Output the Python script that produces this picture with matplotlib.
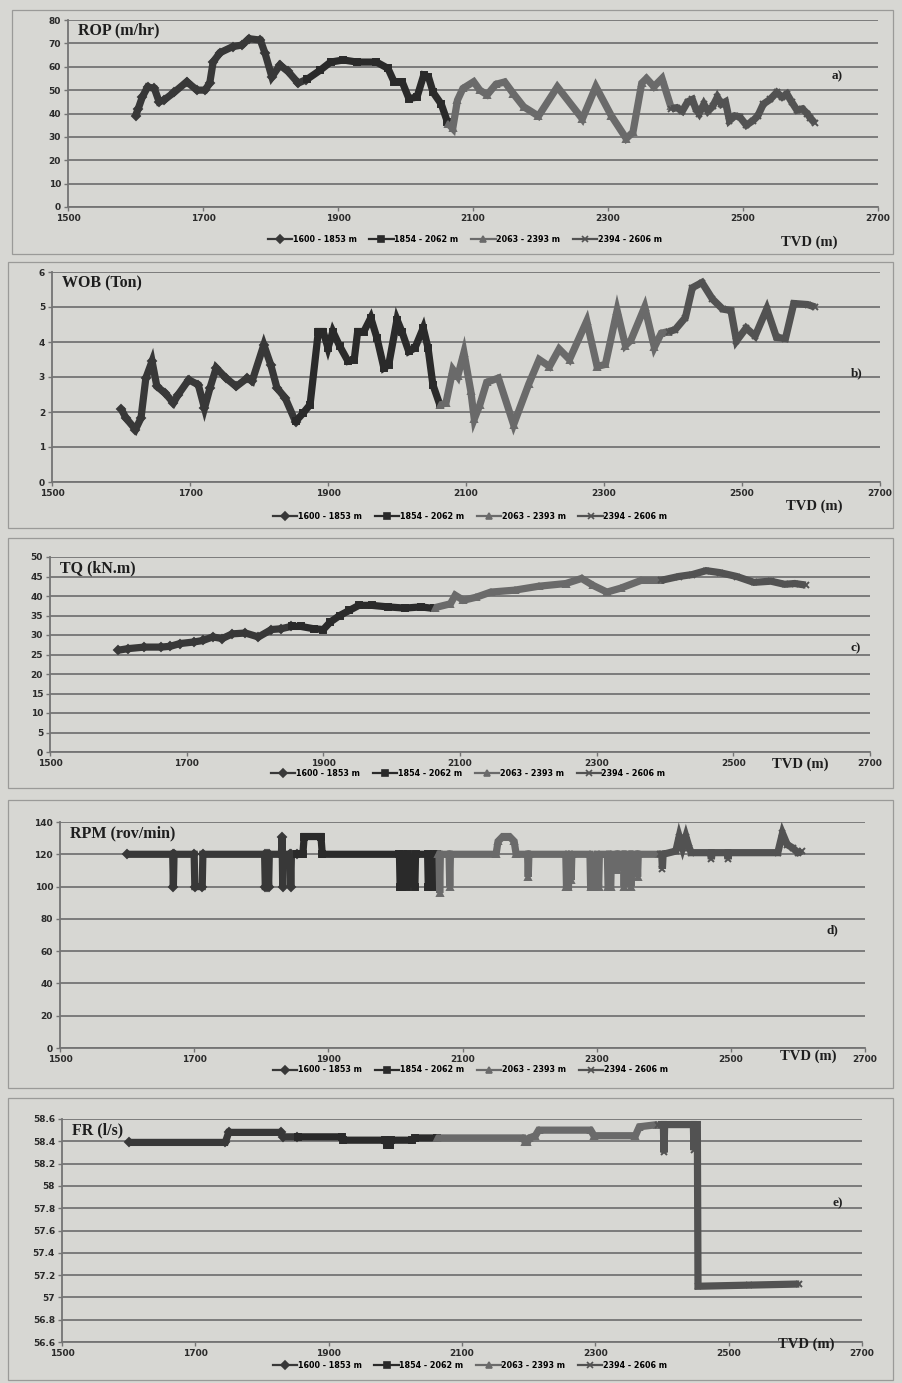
import matplotlib
matplotlib.use('Agg')
import matplotlib.pyplot as plt
from matplotlib.lines import Line2D
from matplotlib.patches import Rectangle
import numpy as np

# ---------------------------------------------------------------- series
series_labels = ['1600 - 1853 m', '1854 - 2062 m', '2063 - 2393 m', '2394 - 2606 m']
series_bounds = [(1600, 1853), (1854, 2062), (2063, 2393), (2394, 2606)]
series_colors = ['#383838', '#2a2a2a', '#6a6a6a', '#525252']
series_markers = ['D', 's', '^', 'x']

x_ticks = [1500, 1700, 1900, 2100, 2300, 2500, 2700]

# ---------------------------------------------------------------- a) ROP
rop_depth = [1600, 1604, 1610, 1618, 1628, 1635, 1642, 1657, 1676, 1691, 1703, 1710,
             1715, 1725, 1744, 1758, 1768, 1785, 1792, 1802, 1814, 1826, 1841, 1853,
             1854, 1874, 1889, 1908, 1928, 1957, 1974, 1983, 1995, 2005, 2017, 2027,
             2034, 2041, 2053, 2062,
             2063, 2070, 2077, 2085, 2101, 2110, 2121, 2134, 2147, 2160, 2175, 2197,
             2225, 2262, 2282, 2305, 2327, 2337, 2350, 2357, 2368, 2380, 2393,
             2394, 2402, 2410, 2418, 2425, 2430, 2435, 2442, 2448, 2455, 2462, 2468,
             2474, 2480, 2488, 2495, 2505, 2515, 2522, 2530, 2540, 2550, 2558, 2565,
             2572, 2580, 2588, 2595, 2600, 2606]
rop_value = [39, 42, 47, 51.4, 50.7, 45, 45.7, 49, 53.6, 50, 50, 53,
             62, 66, 68.6, 69.3, 72, 71.4, 65.7, 55.7, 60.7, 58, 53, 54.5,
             54.6, 58.6, 62, 62.9, 62, 62, 59.3, 53.6, 53.6, 46.4, 47, 56.4,
             55.7, 49, 44, 36.5,
             35.7, 33.6, 45.7, 50.7, 53.6, 50, 48, 52.5, 53.5, 48.4, 42.9, 38.9,
             51.4, 37.7, 51.5, 39, 29.3, 32, 53, 55, 51.5, 55, 43,
             42, 42.5, 41, 45, 46, 42, 40, 44, 41, 43, 47, 44,
             45, 37, 39, 38.6, 35, 37, 39, 44, 46, 49, 47, 48.4,
             45, 41.4, 42, 40, 38, 36]

# ---------------------------------------------------------------- b) WOB
wob_depth = [1600, 1607, 1621, 1629, 1636, 1645, 1652, 1664, 1676, 1683, 1698, 1712,
             1721, 1729, 1738, 1752, 1767, 1783, 1790, 1807, 1817, 1826, 1838, 1853,
             1854, 1864, 1874, 1886, 1893, 1900, 1907, 1917, 1929, 1938, 1943, 1952,
             1962, 1971, 1981, 1988, 2000, 2007, 2017, 2026, 2038, 2045, 2052, 2062,
             2063, 2071, 2081, 2088, 2097, 2107, 2112, 2120, 2130, 2147, 2169, 2191,
             2206, 2221, 2235, 2250, 2275, 2290, 2302, 2319, 2331, 2339, 2359, 2373,
             2383, 2393,
             2394, 2403, 2418, 2428, 2442, 2457, 2472, 2484, 2492, 2506, 2519, 2536,
             2550, 2563, 2575, 2595, 2606]
wob_value = [2.1, 1.83, 1.5, 1.83, 2.97, 3.45, 2.73, 2.54, 2.26, 2.5, 2.92, 2.78,
             2.11, 2.69, 3.26, 2.97, 2.73, 2.97, 2.88, 3.92, 3.35, 2.69, 2.4, 1.72,
             1.75, 1.97, 2.21, 4.3, 4.3, 3.83, 4.3, 3.88, 3.45, 3.5, 4.3, 4.3,
             4.69, 4.11, 3.26, 3.35, 4.64, 4.3, 3.73, 3.83, 4.4, 3.83, 2.78, 2.21,
             2.2, 2.26, 3.21, 3.02, 3.7, 2.59, 1.8, 2.2, 2.85, 2.97, 1.64, 2.8,
             3.5, 3.3, 3.8, 3.5, 4.6, 3.3, 3.36, 4.9, 3.9, 4.05, 5.0, 3.85,
             4.25, 4.3,
             4.3, 4.35, 4.7, 5.55, 5.7, 5.23, 4.94, 4.9, 4.03, 4.4, 4.17, 4.95,
             4.13, 4.1, 5.1, 5.07, 5.0]

# ---------------------------------------------------------------- c) TQ
tq_depth = [1600, 1614, 1638, 1662, 1676, 1690, 1710, 1724, 1738, 1752, 1767, 1786,
            1805, 1824, 1838, 1853,
            1854, 1867, 1886, 1900, 1910, 1924, 1938, 1952, 1971, 1995, 2019, 2043, 2062,
            2063, 2086, 2093, 2105, 2124, 2145, 2180, 2215, 2255, 2278, 2295, 2315,
            2335, 2365, 2393,
            2394, 2420, 2440, 2460, 2480, 2505, 2530, 2555, 2575, 2590, 2606]
tq_value = [26.1, 26.5, 26.9, 26.9, 27.1, 27.8, 28.2, 28.6, 29.5, 29.1, 30.3, 30.5,
            29.5, 31.4, 31.6, 32.2,
            32.2, 32.2, 31.6, 31.4, 33.3, 35, 36.3, 37.6, 37.6, 37.2, 36.9, 37.2, 36.8,
            37, 38, 40.2, 38.9, 39.7, 41, 41.5, 42.5, 43.2, 44.5, 42.7, 41,
            42, 44, 44,
            44, 45, 45.5, 46.5, 46, 45, 43.5, 43.8, 43, 43.2, 42.8]

# ---------------------------------------------------------------- d) RPM
rpm_depth = [1600, 1668, 1669, 1670, 1700, 1701, 1712, 1713, 1805, 1806, 1808, 1809,
             1811, 1812, 1830, 1831, 1832, 1833, 1843, 1844, 1845,
             1853,
             1854, 1862, 1864, 1889, 1891, 2006, 2007, 2010, 2011, 2018, 2019, 2029,
             2030, 2048, 2049, 2056, 2057, 2062,
             2063, 2065, 2066, 2067, 2080, 2081, 2082, 2150, 2153, 2160, 2170, 2177,
             2180, 2197, 2198, 2199, 2254, 2255, 2258, 2259, 2262, 2263, 2290, 2291,
             2296, 2297, 2303, 2304, 2316, 2317, 2321, 2322, 2330, 2331, 2332, 2340,
             2341, 2342, 2350, 2351, 2352, 2360, 2361, 2362, 2393,
             2394, 2397, 2398, 2399, 2418, 2423, 2428, 2433, 2438, 2441, 2470, 2471,
             2472, 2495, 2496, 2497, 2570, 2577, 2584, 2592, 2600, 2606]
rpm_value = [120, 120, 100, 120, 120, 100, 100, 120, 120, 100, 100, 120,
             100, 120, 120, 131, 100, 120, 120, 100, 120,
             120,
             120, 120, 131, 131, 120, 120, 100, 100, 120, 100, 120, 100,
             120, 120, 100, 100, 120, 120,
             120, 120, 96, 120, 120, 100, 120, 120, 128, 131, 131, 128,
             120, 120, 106, 120, 120, 100, 100, 120, 104, 120, 120, 100,
             100, 120, 100, 120, 120, 100, 100, 120, 120, 110, 120, 120,
             100, 120, 120, 100, 120, 120, 106, 120, 120,
             120, 120, 111, 120, 122, 131, 124, 131, 124, 121, 121, 117,
             121, 121, 117, 121, 121, 133, 126, 124, 121, 122]

# ---------------------------------------------------------------- e) FR
fr_depth = [1600, 1745, 1750, 1828, 1832, 1853,
            1854, 1920, 1922, 1985, 1987, 1992, 1994, 2025, 2030, 2062,
            2063, 2192, 2195, 2198, 2201, 2210, 2215, 2293, 2298, 2360, 2366, 2393,
            2394, 2402, 2403, 2404, 2447, 2448, 2449, 2453, 2454, 2530, 2606]
fr_value = [58.39, 58.39, 58.48, 58.48, 58.44, 58.44,
            58.44, 58.44, 58.41, 58.41, 58.37, 58.37, 58.41, 58.41, 58.43, 58.43,
            58.43, 58.43, 58.39, 58.39, 58.43, 58.45, 58.50, 58.50, 58.45, 58.45, 58.53, 58.55,
            58.55, 58.55, 58.30, 58.55, 58.55, 58.32, 58.55, 58.55, 57.10, 57.11, 57.12]

# ---------------------------------------------------------------- layout
W, H = 903, 1383
paper = '#d7d7d3'
grid_c = '#747474'
serif = ['Liberation Serif', 'DejaVu Serif']

panels = [
    dict(title='ROP (m/hr)', tag='a)', depth=rop_depth, value=rop_value,
         ylim=(0, 80), yticks=np.arange(0, 81, 10),
         box=(68, 878, 20, 207), leg=(0.49, -0.175), tvd=(0.915, -0.19), tagpos=(0.95, 0.70),
         frame=(12, 10, 893, 254)),
    dict(title='WOB (Ton)', tag='b)', depth=wob_depth, value=wob_value,
         ylim=(0, 6), yticks=np.arange(0, 7, 1),
         box=(52, 880, 272, 482), leg=(0.505, -0.165), tvd=(0.92, -0.115), tagpos=(0.972, 0.52),
         frame=(8, 262, 893, 528)),
    dict(title='TQ (kN.m)', tag='c)', depth=tq_depth, value=tq_value,
         ylim=(0, 50), yticks=np.arange(0, 51, 5),
         box=(50, 870, 557, 752), leg=(0.51, -0.11), tvd=(0.915, -0.065), tagpos=(0.982, 0.53),
         frame=(8, 538, 893, 788)),
    dict(title='RPM (rov/min)', tag='d)', depth=rpm_depth, value=rpm_value,
         ylim=(0, 140), yticks=np.arange(0, 141, 20),
         box=(60, 865, 822, 1048), leg=(0.51, -0.097), tvd=(0.93, -0.035), tagpos=(0.96, 0.52),
         frame=(8, 800, 893, 1088)),
    dict(title='FR (l/s)', tag='e)', depth=fr_depth, value=fr_value,
         ylim=(56.6, 58.6), yticks=np.round(np.arange(56.6, 58.61, 0.2), 1),
         box=(62, 862, 1119, 1342), leg=(0.51, -0.105), tvd=(0.93, -0.01), tagpos=(0.97, 0.62),
         frame=(8, 1098, 893, 1380)),
]

fig = plt.figure(figsize=(W / 100, H / 100), dpi=100, facecolor=paper)


def fmt_num(v):
    return f'{v:g}'


for p in panels:
    x0, x1, y0, y1 = p['box']
    ax = fig.add_axes([x0 / W, 1 - y1 / H, (x1 - x0) / W, (y1 - y0) / H])
    ax.set_facecolor('none')

    # chart frame
    fx0, fy0, fx1, fy1 = p['frame']
    fig.add_artist(Rectangle((fx0 / W, 1 - fy1 / H), (fx1 - fx0) / W, (fy1 - fy0) / H,
                             transform=fig.transFigure, fill=False,
                             edgecolor='#9a9a98', lw=0.9))

    d = np.asarray(p['depth'], dtype=float)
    v = np.asarray(p['value'], dtype=float)
    handles = []
    for (lo, hi), lab, col, mk in zip(series_bounds, series_labels, series_colors, series_markers):
        m = (d >= lo) & (d <= hi)
        ax.plot(d[m], v[m], color=col, lw=5.2, marker=mk, ms=4.2, mew=1.4,
                mfc=col, mec=col, solid_joinstyle='miter', solid_capstyle='butt', zorder=3)
        handles.append(Line2D([], [], color=col, lw=1.6, marker=mk, ms=3.8, mew=1.2,
                              mfc=col, mec=col, label=lab))

    ax.set_xlim(1500, 2700)
    ax.set_ylim(*p['ylim'])
    ax.set_xticks(x_ticks)
    ax.set_xticklabels([str(t) for t in x_ticks])
    ax.set_yticks(p['yticks'])
    ax.set_yticklabels([fmt_num(t) for t in p['yticks']])
    ax.yaxis.grid(True, color=grid_c, lw=1.3)
    ax.set_axisbelow(True)
    for s in ('top', 'right'):
        ax.spines[s].set_visible(False)
    for s in ('left', 'bottom'):
        ax.spines[s].set_color(grid_c)
        ax.spines[s].set_linewidth(1.3)
    ax.tick_params(axis='both', colors=grid_c, length=3, width=1, labelsize=6.5,
                   labelcolor='#2a2a2a', pad=2)
    for lbl in ax.get_xticklabels() + ax.get_yticklabels():
        lbl.set_fontweight('bold')

    ax.text(0.012, 0.985, p['title'], transform=ax.transAxes, ha='left', va='top',
            family=serif, fontweight='bold', fontsize=11.5, color='#1e1e1e')
    ax.text(p['tvd'][0], p['tvd'][1], 'TVD (m)', transform=ax.transAxes, ha='center',
            va='center', family=serif, fontweight='bold', fontsize=10.5, color='#1e1e1e')
    ax.text(p['tagpos'][0], p['tagpos'][1], p['tag'], transform=ax.transAxes, ha='center',
            va='center', family=serif, fontweight='bold', fontsize=9.5, color='#1e1e1e')

    ax.legend(handles=handles, loc='center', bbox_to_anchor=p['leg'], ncol=4,
              frameon=False, handlelength=3.0, columnspacing=1.6,
              handletextpad=0.1, borderaxespad=0,
              prop=dict(size=5.8, weight='bold'))

fig.savefig('out.png', dpi=100, facecolor=paper)
